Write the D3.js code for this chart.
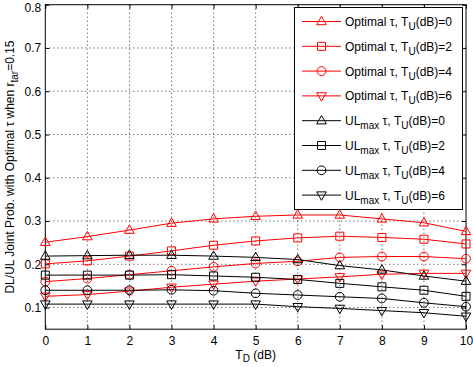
<!DOCTYPE html>
<html><head><meta charset="utf-8">
<script src="https://cdn.jsdelivr.net/npm/d3@7"></script>
<style>body{margin:0;background:#fff}svg{display:block}text{font-family:"Liberation Sans",Arial,sans-serif}</style>
</head><body><svg id="c" width="473" height="367"></svg>
<script>
const tdValues = [0,1,2,3,4,5,6,7,8,9,10];
const xTicks = [0,1,2,3,4,5,6,7,8,9,10];
const yTicks = [0.1,0.2,0.3,0.4,0.5,0.6,0.7,0.8];
const yTickLabels = ["0.1","0.2","0.3","0.4","0.5","0.6","0.7","0.8"];
const optTU0 = [0.251,0.264,0.279,0.295,0.305,0.311,0.314,0.314,0.305,0.296,0.276];
const optTU2 = [0.201,0.208,0.219,0.231,0.244,0.254,0.261,0.265,0.262,0.258,0.247];
const optTU4 = [0.160,0.167,0.176,0.185,0.194,0.202,0.207,0.216,0.218,0.218,0.213];
const optTU6 = [0.126,0.130,0.138,0.147,0.154,0.161,0.166,0.171,0.177,0.179,0.179];
const ulTU0 = [0.219,0.220,0.221,0.221,0.219,0.216,0.211,0.197,0.187,0.173,0.161];
const ulTU2 = [0.175,0.175,0.175,0.176,0.173,0.170,0.165,0.156,0.148,0.140,0.126];
const ulTU4 = [0.140,0.140,0.140,0.141,0.139,0.133,0.129,0.125,0.121,0.111,0.102];
const ulTU6 = [0.108,0.108,0.108,0.108,0.108,0.108,0.102,0.098,0.093,0.088,0.080];
const tuLabels = ["0","2","4","6"];
const markerTypes = ["up","square","circle","down"];

const series = [
  {vals:optTU0, color:"#ff0000", marker:markerTypes[0], kind:"opt", tu:tuLabels[0]},
  {vals:optTU2, color:"#ff0000", marker:markerTypes[1], kind:"opt", tu:tuLabels[1]},
  {vals:optTU4, color:"#ff0000", marker:markerTypes[2], kind:"opt", tu:tuLabels[2]},
  {vals:optTU6, color:"#ff0000", marker:markerTypes[3], kind:"opt", tu:tuLabels[3]},
  {vals:ulTU0, color:"#000000", marker:markerTypes[0], kind:"ul", tu:tuLabels[0]},
  {vals:ulTU2, color:"#000000", marker:markerTypes[1], kind:"ul", tu:tuLabels[1]},
  {vals:ulTU4, color:"#000000", marker:markerTypes[2], kind:"ul", tu:tuLabels[2]},
  {vals:ulTU6, color:"#000000", marker:markerTypes[3], kind:"ul", tu:tuLabels[3]}
];

const L=45.3, R=466, T=4.7, B=329.2;
const x = d3.scaleLinear().domain([0,10]).range([L,R]);
const y = d3.scaleLinear().domain([0.05,0.8]).range([B,T]);
const svg = d3.select("#c");

function markerPath(t){
  if(t==="up") return "M0,-5.2L4.8,3.2L-4.8,3.2Z";
  if(t==="down") return "M0,5.2L4.8,-3.2L-4.8,-3.2Z";
  if(t==="square") return "M-4,-4H4V4H-4Z";
  return "M4.4,0A4.4,4.4 0 1 1 -4.4,0A4.4,4.4 0 1 1 4.4,0Z";
}

// grid
const g = svg.append("g");
g.selectAll(".gx").data(xTicks.slice(1,-1)).join("line")
  .attr("x1",d=>x(d)).attr("x2",d=>x(d)).attr("y1",T).attr("y2",B)
  .attr("stroke","#000").attr("stroke-width",0.8).attr("stroke-dasharray","1,3");
g.selectAll(".gy").data(yTicks.slice(0,-1)).join("line")
  .attr("y1",d=>y(d)).attr("y2",d=>y(d)).attr("x1",L).attr("x2",R)
  .attr("stroke","#000").attr("stroke-width",0.8).attr("stroke-dasharray","1,3");

// axes
const fmtY = d => yTickLabels[yTicks.indexOf(d)];
const axB = svg.append("g").attr("transform",`translate(0,${B})`)
  .call(d3.axisBottom(x).tickValues(xTicks).tickSize(-4).tickPadding(7).tickFormat(d3.format("d")));
const axT = svg.append("g").attr("transform",`translate(0,${T})`)
  .call(d3.axisTop(x).tickValues(xTicks).tickSize(-4).tickFormat(""));
const axL = svg.append("g").attr("transform",`translate(${L},0)`)
  .call(d3.axisLeft(y).tickValues(yTicks).tickSize(-4).tickPadding(4).tickFormat(fmtY));
const axR = svg.append("g").attr("transform",`translate(${R},0)`)
  .call(d3.axisRight(y).tickValues(yTicks).tickSize(-4).tickFormat(""));
[axB,axT,axL,axR].forEach(a=>{
  a.select(".domain").remove();
  a.selectAll("line").attr("stroke","#000");
  a.selectAll("text").attr("font-size","12px").attr("fill","#000").attr("font-family","Liberation Sans, Arial, sans-serif");
});
// keep the top label inside the picture
axL.selectAll(".tick text").filter(d=>d===yTicks[yTicks.length-1]).attr("dy","0.55em");
svg.append("rect").attr("x",L).attr("y",T).attr("width",R-L).attr("height",B-T)
  .attr("fill","none").attr("stroke","#000").attr("stroke-width",1);

// series
const line = d3.line().x((d,i)=>x(tdValues[i])).y(d=>y(d));
series.forEach(s=>{
  svg.append("path").attr("d",line(s.vals)).attr("fill","none").attr("stroke",s.color).attr("stroke-width",1);
  svg.append("g").selectAll("path").data(s.vals).join("path")
    .attr("transform",(d,i)=>`translate(${x(tdValues[i])},${y(d)})`)
    .attr("d",markerPath(s.marker)).attr("fill","none").attr("stroke",s.color).attr("stroke-width",1);
});

// legend
const lg = svg.append("g");
lg.append("rect").attr("x",294.5).attr("y",7.5).attr("width",168).attr("height",202)
  .attr("fill","#fff").attr("stroke","#000").attr("stroke-width",1);
series.forEach((s,i)=>{
  const yy = 21.5 + i*24.8;
  lg.append("line").attr("x1",302).attr("x2",341).attr("y1",yy).attr("y2",yy).attr("stroke",s.color).attr("stroke-width",1);
  lg.append("path").attr("transform",`translate(321.5,${yy})`).attr("d",markerPath(s.marker))
    .attr("fill","none").attr("stroke",s.color).attr("stroke-width",1);
  const t = lg.append("text").attr("x",345).attr("y",yy+4.5).attr("font-size","12px").attr("fill","#000");
  if(s.kind==="opt"){
    t.append("tspan").text("Optimal \u03c4, T");
  } else {
    t.append("tspan").text("UL");
    t.append("tspan").attr("dy",4).attr("font-size","10px").text("max");
    t.append("tspan").attr("dy",-4).text(" \u03c4, T");
  }
  t.append("tspan").attr("dy",4).attr("font-size","10px").text("U");
  t.append("tspan").attr("dy",-4).text("(dB)="+s.tu);
});

// axis labels
const xl = svg.append("text").attr("x",255.6).attr("y",358.5).attr("text-anchor","middle").attr("font-size","12px").attr("fill","#000");
xl.append("tspan").text("T");
xl.append("tspan").attr("dy",3).attr("font-size","10px").text("D");
xl.append("tspan").attr("dy",-3).text(" (dB)");

const yl = svg.append("text").attr("transform",`translate(14,167) rotate(-90)`).attr("text-anchor","middle").attr("font-size","12px").attr("fill","#000");
yl.append("tspan").text("DL/UL Joint Prob. with Optimal \u03c4 when r");
yl.append("tspan").attr("dy",4).attr("font-size","10px").text("tar");
yl.append("tspan").attr("dy",-4).text("=0.15");
</script></body></html>
